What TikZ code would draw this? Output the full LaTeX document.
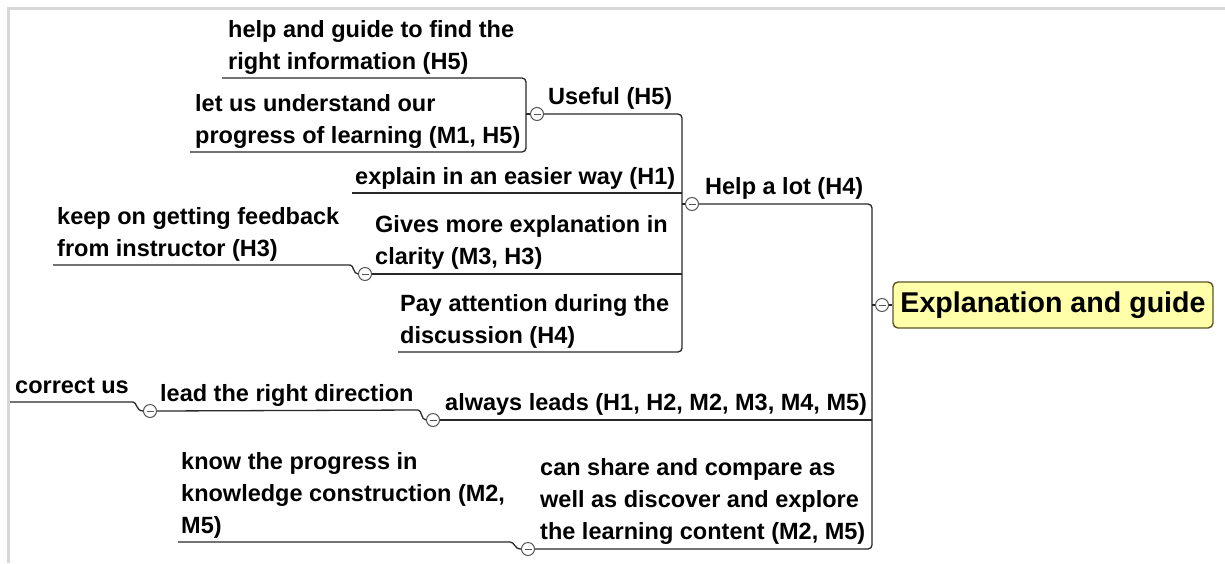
\documentclass[tikz,border=0pt]{standalone}
\usepackage{fontspec}
\setmainfont{Liberation Sans}
% keeps the bottom of every topic at the same distance below its last baseline
\newcommand{\tdp}{\rule[-8.5pt]{0pt}{8.5pt}}
\definecolor{ink}{RGB}{40,40,40}
\definecolor{rootfill}{RGB}{255,255,170}
\definecolor{rootedge}{RGB}{90,85,40}
\definecolor{framegray}{RGB}{215,215,215}
\definecolor{togedge}{RGB}{85,85,85}
\begin{document}
\begin{tikzpicture}[x=1pt,y=-1pt,
  conn/.style={draw=ink, line width=1.3pt},
  topic/.style={anchor=south west, inner sep=0pt, align=left, text=black,
    font=\fontsize{23.5}{32}\selectfont\bfseries},
  tog/.style={circle, draw=togedge, fill=white, line width=1pt,
    minimum size=13pt, inner sep=0pt,
    path picture={\draw[togedge, line width=1pt]
      ([xshift=-3.5pt]path picture bounding box.center) --
      ([xshift=3.5pt]path picture bounding box.center);}},
  rootbox/.style={draw=rootedge, fill=rootfill, rounded corners=5pt,
    line width=1.4pt, minimum width=320pt, minimum height=46pt, inner sep=0pt,
    font=\fontsize{28.6}{34}\selectfont\bfseries}
]
\useasboundingbox (0,0) rectangle (1225,563);
\fill[white] (0,0) rectangle (1225,563);
% window frame
\fill[framegray] (7,7) rectangle (1225,10);
\fill[framegray] (7,7) rectangle (10,563);

% central topic
\node[rootbox] (root) at (1053,305) {Explanation and guide};

% topics
\node[topic] (hg) at (228,78) {help and guide to find the\\right information (H5)\tdp};
\node[topic] (lu) at (195,152) {let us understand our\\progress of learning (M1, H5)\tdp};
\node[topic] (us) at (548,113) {Useful (H5)\tdp};
\node[topic] (ex) at (355,193) {explain in an easier way (H1)\tdp};
\node[topic] (gv) at (375,273) {Gives more explanation in\\clarity (M3, H3)\tdp};
\node[topic] (pa) at (400,352) {Pay attention during the\\discussion (H4)\tdp};
\node[topic] (kp) at (57,265) {keep on getting feedback\\from instructor (H3)\tdp};
\node[topic] (hl) at (705,203) {Help a lot (H4)\tdp};
\node[topic] (al) at (445,419) {always leads (H1, H2, M2, M3, M4, M5)\tdp};
\node[topic] (ld) at (160,410) {lead the right direction\tdp};
\node[topic] (cu) at (15,402) {correct us\tdp};
\node[topic] (cs) at (540,548) {can share and compare as\\well as discover and explore\\the learning content (M2, M5)\tdp};
\node[topic] (kn) at (181,542) {know the progress in\\knowledge construction (M2,\\M5)\tdp};

% collapse toggles
\node[tog] (t_us) at (537,114) {};
\node[tog] (t_hl) at (692,204) {};
\node[tog] (t_gv) at (365,274) {};
\node[tog] (t_al) at (433,420) {};
\node[tog] (t_ld) at (150,411) {};
\node[tog] (t_cs) at (528,549) {};
\node[tog] (t_root) at (882,305) {};

% connectors
\draw[conn, rounded corners=4pt] (222,78) -- (526,78) -- (526,152) -- (190,152);
\draw[conn] (t_us.west) -- (526,114);
\draw[conn, rounded corners=4pt] (t_us.east) -- (682,114) -- (682,352) -- (398,352);
\draw[conn] (352,193) -- (682,193);
\draw[conn] (t_gv.east) -- (682,274);
\draw[conn] (t_hl.west) -- (682,204);
\draw[conn] (53,265) -- (350,265) .. controls (354,265) and (353,274) .. (t_gv.west);
\draw[conn, rounded corners=4pt] (t_hl.east) -- (872,204) -- (872,549) -- (t_cs.east);
\draw[conn] (t_al.east) -- (872,420);
\draw[conn] (872,305) -- (t_root.west);
\draw[conn] (t_root.east) -- (root.west);
\draw[conn] (t_ld.east) -- (418,410) .. controls (422,410) and (421,420) .. (t_al.west);
\draw[conn] (10,402) -- (133,402) .. controls (137,402) and (136,411) .. (t_ld.west);
\draw[conn] (178,542) -- (510,542) .. controls (515,542) and (514,549) .. (t_cs.west);
\end{tikzpicture}
\end{document}
